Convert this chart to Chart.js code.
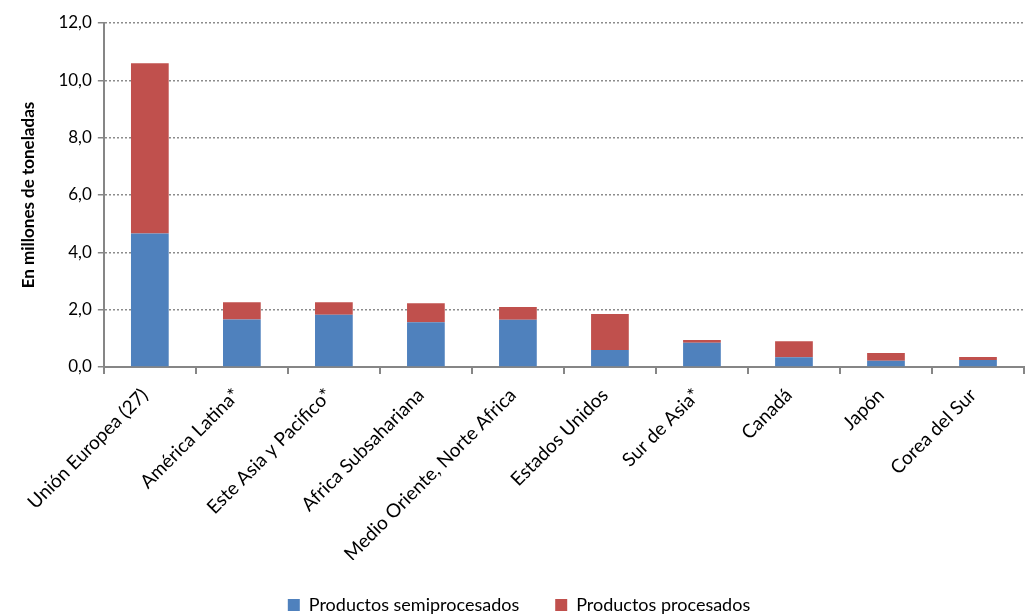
<!DOCTYPE html>
<html>
<head>
<meta charset="utf-8">
<script src="https://cdn.jsdelivr.net/npm/chart.js@4"></script>
<style>
    html, body { margin: 0; padding: 0; background: #fff; }
    #wrap { width: 1035px; height: 615px; }
</style>
</head>
<body>
<div id="wrap"><canvas id="chart" width="1035" height="615"></canvas></div>
<script>
// Regions (x axis)
const regions = [
    'Unión Europea (27)', 'América Latina*', 'Este Asia y Pacifico*', 'Africa Subsahariana',
    'Medio Oriente, Norte Africa', 'Estados Unidos', 'Sur de Asia*', 'Canadá', 'Japón', 'Corea del Sur'
];
// Million tonnes
const semiprocesados = [4.66, 1.66, 1.82, 1.56, 1.65, 0.59, 0.85, 0.34, 0.22, 0.24];
const procesados     = [5.94, 0.60, 0.44, 0.66, 0.44, 1.26, 0.09, 0.56, 0.27, 0.11];
const yTicks = [0, 2, 4, 6, 8, 10, 12];

const fontFamily = 'Lato, "Open Sans", sans-serif';
Chart.defaults.font.family = fontFamily;
Chart.defaults.color = '#000';

const ctx = document.getElementById('chart').getContext('2d');
new Chart(ctx, {
    type: 'bar',
    data: {
        labels: regions,
        datasets: [{
            label: 'Productos semiprocesados',
            data: semiprocesados,
            backgroundColor: '#4F81BD',
            barPercentage: 0.41,
            categoryPercentage: 1
        }, {
            label: 'Productos procesados',
            data: procesados,
            backgroundColor: '#C0504D',
            barPercentage: 0.41,
            categoryPercentage: 1
        }]
    },
    options: {
        responsive: false,
        animation: false,
        layout: { padding: { top: 23, right: 11, left: 14, bottom: 0 } },
        plugins: {
            legend: {
                position: 'bottom',
                maxHeight: 55,
                labels: {
                    boxWidth: 12,
                    boxHeight: 12,
                    padding: 36,
                    font: { size: 18 }
                }
            },
            tooltip: { enabled: false }
        },
        scales: {
            x: {
                stacked: true,
                // keep the rotated labels from squeezing the plot
                afterFit: function(scale) {
                    scale.height = 193;
                },
                grid: {
                    offset: true,
                    drawOnChartArea: false,
                    tickLength: 7,
                    color: '#868686',
                    lineWidth: 2
                },
                border: { color: '#868686', width: 2 },
                ticks: {
                    maxRotation: 45,
                    minRotation: 45,
                    font: { size: 19 },
                    padding: 10,
                    labelOffset: -5
                }
            },
            y: {
                stacked: true,
                min: 0,
                max: 12,
                afterBuildTicks: function(axis) {
                    axis.ticks = yTicks.map(v => ({ value: v }));
                },
                grid: {
                    color: '#8c8c8c',
                    lineWidth: 1.5,
                    tickLength: 6,
                    tickColor: '#868686',
                    tickBorderDash: [],
                    drawTicks: true
                },
                border: { color: '#868686', width: 2, dash: [2, 2] },
                ticks: {
                    font: { size: 17 },
                    padding: 6,
                    callback: v => v.toFixed(1).replace('.', ',')
                },
                title: {
                    display: true,
                    text: 'En millones de toneladas',
                    font: { size: 17, weight: 'bold' },
                    padding: { bottom: 14 }
                }
            }
        }
    }
});
</script>
</body>
</html>
